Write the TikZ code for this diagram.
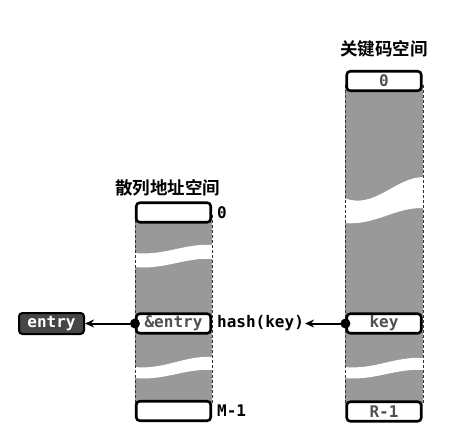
\documentclass[tikz,border=0pt]{standalone}
\usepackage{fontspec}
\newfontfamily\cjk[BoldFont={Noto Sans CJK SC Bold}]{Noto Sans CJK SC}
\newfontfamily\mono{DejaVu Sans Mono}
\usetikzlibrary{arrows.meta}
\definecolor{colgray}{RGB}{153,153,153}
\definecolor{txtgray}{RGB}{80,80,80}
\definecolor{darkbox}{RGB}{70,70,70}
\tikzset{
  cell/.style={draw=black, line width=2.6pt, rounded corners=3.5pt, fill=white,
    minimum width=74.5pt, minimum height=19.5pt, inner sep=0pt,
    font=\mono\bfseries\fontsize{16}{16}\selectfont, text=txtgray},
  darkcell/.style={draw=black, line width=2pt, rounded corners=3.5pt, fill=darkbox,
    minimum width=65pt, minimum height=21pt, inner sep=0pt,
    font=\mono\bfseries\fontsize{16}{16}\selectfont, text=white},
  lbl/.style={font=\mono\bfseries\fontsize{16}{16}\selectfont, inner sep=1pt, anchor=west},
  title/.style={font=\cjk\bfseries\fontsize{17.5}{17.5}\selectfont, inner sep=0pt},
  edge/.style={dashed, line width=0.7pt, draw=black!80, dash pattern=on 3pt off 2pt},
  band/.style={fill=white, draw=none},
  ptr/.style={line width=2pt, -{Stealth[length=9pt, width=8pt]}},
}
\begin{document}
\begin{tikzpicture}[x=1pt, y=-1pt]
\useasboundingbox (0,0) rectangle (449,430);
\fill[white] (0,0) rectangle (449,430);
% columns
\fill[colgray] (135,215) rectangle (212,405);
\fill[colgray] (345,85) rectangle (423,405);
% bands left
\fill[band] (134,253) .. controls (165,256) and (185,243) .. (213,245)
  -- (213,259) .. controls (185,257) and (165,270) .. (134,267) -- cycle;
\fill[band] (134,367) .. controls (165,370) and (185,355) .. (213,357)
  -- (213,370) .. controls (185,368) and (165,381) .. (134,378) -- cycle;
% bands right
\fill[band] (344,198) .. controls (375,210) and (395,177) .. (424,177)
  -- (424,208) .. controls (395,207) and (375,226) .. (344,223) -- cycle;
\fill[band] (344,367) .. controls (375,370) and (395,356) .. (424,358)
  -- (424,370) .. controls (395,368) and (375,381) .. (344,378) -- cycle;
% dashed edges
\draw[edge] (135,215) -- (135,405);
\draw[edge] (212,215) -- (212,405);
\draw[edge] (345,85) -- (345,405);
\draw[edge] (423,85) -- (423,405);
% titles
\node[title] (t1) at (167.5,188) {散列地址空间};
\node[title] (t2) at (384,48.5) {关键码空间};
% left cells
\node[cell] (a0) at (173.5,212.5) {};
\node[cell] (ae) at (173.5,323.5) {\&entry};
\node[cell] (am) at (173.5,411) {};
\node[lbl] (l0) at (216,212.5) {0};
\node[lbl] (lm) at (216,411) {M-1};
% right cells
\node[cell] (k0) at (384,81) {0};
\node[cell] (kk) at (384,323.5) {key};
\node[cell] (kr) at (384,411.5) {R-1};
% hash label
\node[lbl] (h) at (216,323.5) {hash(key)};
% entry box
\node[darkcell] (en) at (51.5,323.5) {entry};
% pointers
\draw[ptr] (ae.west) -- (en.east);
\fill (ae.west) circle (5pt);
\draw[ptr] (kk.west) -- (h.east);
\fill (kk.west) circle (5pt);
\end{tikzpicture}
\end{document}
